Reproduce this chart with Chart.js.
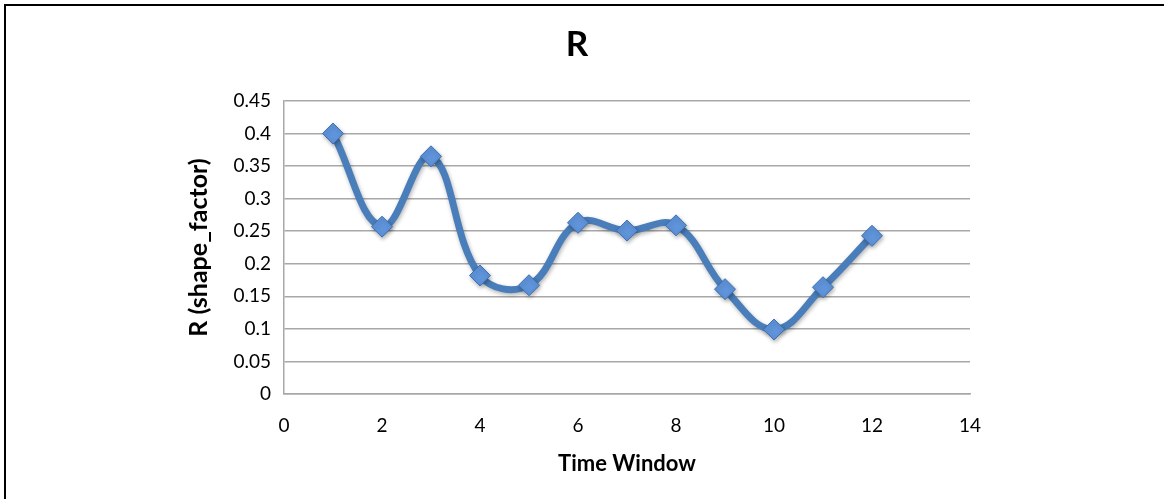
<!DOCTYPE html>
<html>
<head>
<meta charset="utf-8">
<title>R</title>
<script src="https://cdn.jsdelivr.net/npm/chart.js@4.4.1/dist/chart.umd.min.js"></script>
<style>
    html, body { margin: 0; padding: 0; background: #fff; }
    #wrap { position: relative; width: 1164px; height: 499px; overflow: hidden; }
    #frame {
        position: absolute; left: 4px; top: 4px; right: -10px; bottom: -10px;
        border-left: 2px solid #000; border-top: 2px solid #000;
        pointer-events: none;
    }
</style>
</head>
<body>
<div id="wrap">
    <canvas id="rChart"></canvas>
    <div id="frame"></div>
</div>
<script>
// Time windows and the shape factor R measured in each one
var timeWindows = [1, 2, 3, 4, 5, 6, 7, 8, 9, 10, 11, 12];
var shapeFactor = [0.4, 0.257, 0.365, 0.182, 0.167, 0.263, 0.251, 0.259, 0.161, 0.099, 0.164, 0.243];

// Axis tick labels
var xTickLabels = ['0', '2', '4', '6', '8', '10', '12', '14'];
var yTickLabels = ['0', '0.05', '0.1', '0.15', '0.2', '0.25', '0.3', '0.35', '0.4', '0.45'];

var gridGrey = '#a8a8a8';
var lineBlue = '#4a7ebb';

// soft drop shadow under the series line, like the office chart style
var shadowPlugin = {
    id: 'lineShadow',
    beforeDatasetDraw: function (chart) {
        var c = chart.ctx;
        c.save();
        c.shadowColor = 'rgba(0, 0, 0, 0.3)';
        c.shadowBlur = 4;
        c.shadowOffsetX = 1;
        c.shadowOffsetY = 2;
    },
    afterDatasetDraw: function (chart) {
        chart.ctx.restore();
    }
};

document.addEventListener("DOMContentLoaded", function () {
    var ctx = document.getElementById('rChart').getContext('2d');

    var points = timeWindows.map(function (t, i) {
        return { x: t, y: shapeFactor[i] };
    });

    var data = {
        datasets: [{
            label: 'R',
            data: points,
            showLine: true,
            borderColor: lineBlue,
            borderWidth: 7,
            tension: 0.4,
            pointStyle: 'rectRot',
            pointRadius: 10.5,
            pointHoverRadius: 10.5,
            pointBackgroundColor: '#5f93da',
            pointBorderColor: '#3d6fb3',
            pointBorderWidth: 1
        }]
    };

    var rChart = new Chart(ctx, {
        type: 'scatter',
        data: data,
        plugins: [shadowPlugin],
        options: {
            responsive: true,
            maintainAspectRatio: false,
            animation: false,
            layout: {
                padding: { left: 0, right: 10, top: 0, bottom: 0 }
            },
            plugins: {
                legend: { display: false },
                tooltip: { enabled: false },
                title: {
                    display: true,
                    text: 'R',
                    color: '#000',
                    font: { family: 'Lato', size: 35, weight: 'bold' },
                    padding: { top: 24, bottom: 35 }
                }
            },
            scales: {
                x: {
                    type: 'linear',
                    min: 0,
                    max: 14,
                    afterFit: function (scale) { scale.height = 105; },
                    afterBuildTicks: function (scale) {
                        scale.ticks = xTickLabels.map(function (s) { return { value: Number(s) }; });
                    },
                    ticks: {
                        padding: 20,
                        color: '#000',
                        font: { family: 'Lato', size: 19 },
                        callback: function (value, index) { return xTickLabels[index]; }
                    },
                    grid: { display: false, drawTicks: false },
                    border: { display: true, color: gridGrey, width: 1.5 },
                    title: {
                        display: true,
                        text: 'Time Window',
                        color: '#000',
                        font: { family: 'Lato', size: 22, weight: 'bold' },
                        padding: { top: 0, bottom: 22 }
                    }
                },
                y: {
                    type: 'linear',
                    min: 0,
                    max: 0.45,
                    afterFit: function (scale) { scale.width = 284; },
                    afterBuildTicks: function (scale) {
                        scale.ticks = yTickLabels.map(function (s) { return { value: Number(s) }; });
                    },
                    ticks: {
                        padding: 13,
                        color: '#000',
                        font: { family: 'Lato', size: 19 },
                        callback: function (value, index) { return yTickLabels[index]; }
                    },
                    grid: { color: gridGrey, lineWidth: 1.5, drawTicks: false },
                    border: { display: true, color: gridGrey, width: 1.5 },
                    title: {
                        display: true,
                        text: 'R (shape_factor)',
                        color: '#000',
                        font: { family: 'Lato', size: 25, weight: 'bold' },
                        padding: { top: 184, bottom: 0 }
                    }
                },
                // empty right-hand margin so the plot stops at the same place
                // while the chart title stays centred on the whole canvas
                yRight: {
                    type: 'linear',
                    position: 'right',
                    display: true,
                    afterFit: function (scale) { scale.width = 184; },
                    ticks: { display: false },
                    grid: { display: false, drawTicks: false },
                    border: { display: false }
                }
            }
        }
    });
});
</script>
</body>
</html>
